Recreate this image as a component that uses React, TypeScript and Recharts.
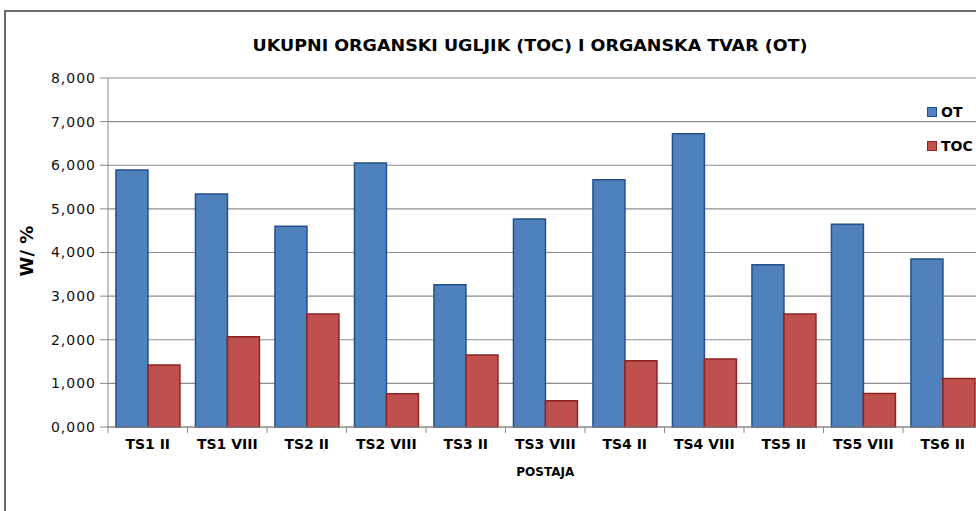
import { BarChart, Bar, XAxis, YAxis, CartesianGrid } from "recharts";

const postaje = ["TS1 II", "TS1 VIII", "TS2 II", "TS2 VIII", "TS3 II", "TS3 VIII", "TS4 II", "TS4 VIII", "TS5 II", "TS5 VIII", "TS6 II"];
const otVrijednosti = [5.89, 5.34, 4.6, 6.05, 3.26, 4.77, 5.67, 6.72, 3.72, 4.65, 3.85];
const tocVrijednosti = [1.42, 2.07, 2.59, 0.76, 1.65, 0.6, 1.52, 1.56, 2.59, 0.77, 1.11];
const yTicks = [0, 1, 2, 3, 4, 5, 6, 7, 8];

const serije = [
  { key: "OT", fill: "#4f81bd", stroke: "#24508a" },
  { key: "TOC", fill: "#c0504d", stroke: "#8a2522" },
];

const data = postaje.map((name, i) => ({ name, OT: otVrijednosti[i], TOC: tocVrijednosti[i] }));

const fmt = (v: number) => v.toFixed(3).replace(".", ",");

// excel puts the tick marks between categories, so draw them at the band edge
const CategoryTick = (props: any) => {
  const { x, y, payload } = props;
  const half = payload?.offset ?? 39.75;
  return (
    <g>
      <line x1={x - half} x2={x - half} y1={y - 12} y2={y - 6} stroke="#888" strokeWidth={1} />
      <text x={x} y={y + 10} textAnchor="middle" fontFamily="DejaVu Sans" fontWeight="bold" fontSize={14} fill="#000">
        {payload.value}
      </text>
    </g>
  );
};

export default function App() {
  return (
    <div style={{ position: "fixed", left: 0, top: 0, width: 976, height: 511, overflow: "hidden", background: "#fff" }}>
      <div style={{ position: "absolute", left: 4, top: 10, width: 1000, height: 600, border: "2px solid #6b6b6b" }} />
      <BarChart
        width={990}
        height={511}
        data={data}
        margin={{ top: 78, right: 7.5, left: 0, bottom: 0 }}
        barCategoryGap="10%"
        barGap={0}
        style={{ position: "absolute", left: 0, top: 0 }}
      >
        <text x={530} y={51} textAnchor="middle" fontFamily="DejaVu Sans" fontWeight="bold" fontSize={15} textLength={555} lengthAdjust="spacingAndGlyphs" fill="#000">
          UKUPNI ORGANSKI UGLJIK (TOC) I ORGANSKA TVAR (OT)
        </text>
        <text x={33} y={251} transform="rotate(-90 33 251)" textAnchor="middle" fontFamily="DejaVu Sans" fontWeight="bold" fontSize={18} fill="#000">
          W/ %
        </text>
        <CartesianGrid vertical={false} stroke="#8c8c8c" strokeWidth={1.2} />
        <XAxis
          dataKey="name"
          height={84}
          tickLine={false}
          tickSize={0}
          tickMargin={12}
          interval={0}
          axisLine={{ stroke: "#888" }}
          tick={<CategoryTick />}
          label={{ value: "POSTAJA", position: "insideTop", offset: 40, fontFamily: "DejaVu Sans", fontWeight: "bold", fontSize: 12, fill: "#000" }}
        />
        <YAxis
          width={108}
          domain={[0, 8]}
          ticks={yTicks}
          tickFormatter={fmt}
          tickSize={8}
          tickMargin={4}
          axisLine={{ stroke: "#888" }}
          tickLine={{ stroke: "#888" }}
          tick={{ fontFamily: "DejaVu Sans", fontSize: 14, fill: "#111", letterSpacing: 1 }}
        />
        {serije.map((s) => (
          <Bar key={s.key} dataKey={s.key} fill={s.fill} stroke={s.stroke} strokeWidth={1.5} isAnimationActive={false} />
        ))}
      </BarChart>
      <div style={{ position: "absolute", left: 927, top: 103, display: "flex", flexDirection: "column", gap: 16 }}>
        {serije.map((s) => (
          <div key={s.key} style={{ display: "flex", alignItems: "center", height: 18 }}>
            <span style={{ width: 8, height: 8, background: s.fill, border: `1px solid ${s.stroke}`, marginRight: 4 }} />
            <span style={{ fontFamily: "DejaVu Sans", fontWeight: "bold", fontSize: 14, color: "#000" }}>{s.key}</span>
          </div>
        ))}
      </div>
    </div>
  );
}
